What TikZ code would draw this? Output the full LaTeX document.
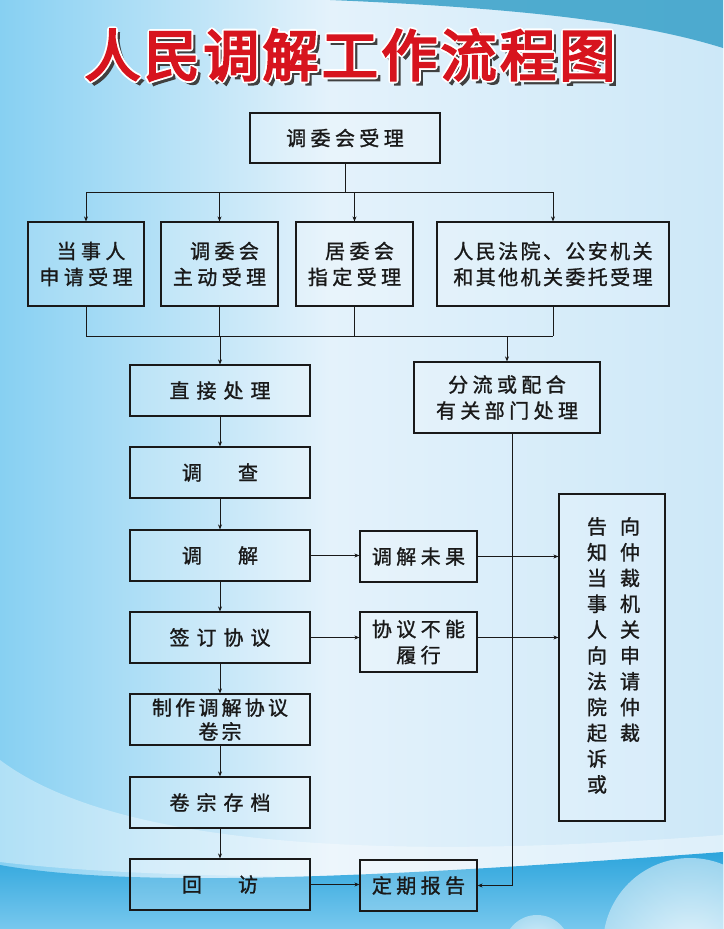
\documentclass[tikz,border=0pt]{standalone}
\usepackage{fontspec}
\usepackage{tikz}
\usetikzlibrary{arrows.meta,calc,positioning}
\newfontfamily\cjk{Noto Sans CJK SC}[FakeBold=1.2]
\newfontfamily\cjkw{Noto Sans CJK SC}[FakeBold=1.2,LetterSpace=22]
\newfontfamily\cjkww{Noto Sans CJK SC}[FakeBold=1.2,LetterSpace=35]
\newfontfamily\cjkt{Noto Sans CJK SC}[FakeBold=4,LetterSpace=6]
\newfontfamily\cjkto{Noto Sans CJK SC}[LetterSpace=6]
% white outline behind the title
\newcommand{\outlined}[1]{\special{pdf:literal direct 1 1 1 RG 6 w 1 j 2 Tr}#1\special{pdf:literal direct 0 Tr}}
\definecolor{bgleft}{RGB}{135,208,242}
\definecolor{bgmid}{RGB}{228,242,251}
\definecolor{bgright}{RGB}{205,232,248}
\definecolor{topband}{RGB}{55,160,200}
\definecolor{wave}{RGB}{45,165,220}
\definecolor{wavelow}{RGB}{120,200,238}
\definecolor{titlered}{RGB}{215,20,30}
\definecolor{ink}{RGB}{25,25,25}

\begin{document}
\begin{tikzpicture}[x=1pt,y=-1pt,
    box/.style={draw=ink,line width=1.2pt,fill=white,fill opacity=0.18,text opacity=1,
      text=ink,align=center,inner sep=0pt,font=\fontsize{20}{26}\selectfont\cjkw},
    arr/.style={draw=ink,line width=0.8pt,-{Stealth[length=5pt,width=4pt]}},
    ln/.style={draw=ink,line width=0.8pt},
    ttl/.style={font=\fontsize{56}{56}\selectfont\cjkt,inner sep=0pt}]
  \useasboundingbox (0,0) rectangle (723,929);
  % background
  \begin{scope}
    \clip (0,0) rectangle (723,929);
    \shade[left color=bgleft,right color=bgright] (0,0) rectangle (300,929);
    \shade[left color=bgleft!40!bgmid,right color=bgright] (300,0) rectangle (723,929);
    \shade[left color=bgleft,right color=bgmid] (0,0) rectangle (330,929);
    \shade[left color=bgmid,right color=bgright] (329,0) rectangle (723,929);
    \fill[topband,opacity=0.85] (330,0) .. controls (520,8) and (640,22) .. (723,48) -- (723,0) -- cycle;
    \fill[white,opacity=0.35] (0,760) .. controls (120,850) and (400,860) .. (723,835) -- (723,870) .. controls (400,880) and (150,880) .. (0,862) -- cycle;
    \shade[top color=wave,bottom color=wavelow] (0,865) .. controls (150,892) and (450,872) .. (723,852) -- (723,929) -- (0,929) -- cycle;
    \shade[inner color=white,outer color=white!70!wave,opacity=0.75] (690,945) circle (87);
    \shade[inner color=white,outer color=white!70!wave,opacity=0.75] (537,948) circle (33);
  \end{scope}
  % title
  \node[ttl,text=black!75] (title-sh) at (354,59) {人民调解工作流程图};
  \node[ttl,font=\fontsize{56}{56}\selectfont\cjkto,text=white] (title-w) at (350,55) {\outlined{人民调解工作流程图}};
  \node[ttl,text=titlered] (title) at (350,55) {人民调解工作流程图};

  % boxes
  \node[box,minimum width=190,minimum height=50] (accept) at (345,138) {调委会受理};
  \node[box,minimum width=116,minimum height=84] (party) at (86,264) {\hspace*{10pt}当事人\\申请受理};
  \node[box,minimum width=117,minimum height=84] (self) at (219.5,264) {\hspace*{10pt}调委会\\主动受理};
  \node[box,minimum width=117,minimum height=84] (resid) at (354.5,264) {\hspace*{10pt}居委会\\指定受理};
  \node[box,minimum width=232,minimum height=84,font=\fontsize{20}{26}\selectfont\cjk\addfontfeature{LetterSpace=12}] (court) at (553,264) {人民法院、公安机关\\和其他机关委托受理};

  \node[box,minimum width=180,minimum height=51,font=\fontsize{20}{26}\selectfont\cjkww] (direct) at (220,390.5) {直接处理};
  \node[box,minimum width=180,minimum height=51,font=\fontsize{20}{26}\selectfont\cjk] (survey) at (220,472.5) {调\hspace{36pt}查};
  \node[box,minimum width=180,minimum height=51,font=\fontsize{20}{26}\selectfont\cjk] (mediate) at (220,555.5) {调\hspace{36pt}解};
  \node[box,minimum width=180,minimum height=51,font=\fontsize{20}{26}\selectfont\cjkww] (sign) at (220,637.5) {签订协议};
  \node[box,minimum width=180,minimum height=51,font=\fontsize{20}{24}\selectfont\cjk\addfontfeature{LetterSpace=16}] (dossier) at (220,719.5) {制作调解协议\\卷宗};
  \node[box,minimum width=180,minimum height=51,font=\fontsize{20}{26}\selectfont\cjkww] (archive) at (220,802.5) {卷宗存档};
  \node[box,minimum width=180,minimum height=51,font=\fontsize{20}{26}\selectfont\cjk] (visit) at (220,884.5) {回\hspace{36pt}访};

  \node[box,minimum width=186,minimum height=71] (shunt) at (507,397.5) {分流或配合\\有关部门处理};
  \node[box,minimum width=117,minimum height=51] (fail) at (418.5,556.5) {调解未果};
  \node[box,minimum width=117,minimum height=60] (broken) at (418.5,642) {协议不能\\履行};
  \node[box,minimum width=117,minimum height=51] (report) at (418.5,885.5) {定期报告};
  \node[box,minimum width=106,minimum height=327] (sue) at (612,657.5) {};
  \node[text=ink,align=center,inner sep=0pt,anchor=north,font=\fontsize{20}{25.8}\selectfont\cjk] (sue-r) at (630,517) {向\\仲\\裁\\机\\关\\申\\请\\仲\\裁};
  \node[text=ink,align=center,inner sep=0pt,anchor=north,font=\fontsize{20}{25.8}\selectfont\cjk] (sue-l) at (597,517) {告\\知\\当\\事\\人\\向\\法\\院\\起\\诉\\或};

  % connectors
  \coordinate (tj) at (0,192);
  \coordinate (bj) at (0,336);
  \draw[ln] (accept.south) -- (accept.south |- tj);
  \draw[ln] (party.north |- tj) -- (court.north |- tj);
  \foreach \b in {party,self,resid,court}
    \draw[arr] (\b.north |- tj) -- (\b.north);
  \foreach \b in {party,self,resid,court}
    \draw[ln] (\b.south) -- (\b.south |- bj);
  \draw[ln] (party.south |- bj) -- (court.south |- bj);
  \draw[arr] (direct.north |- bj) -- (direct.north);
  \draw[arr] (shunt.north |- bj) -- (shunt.north);

  \draw[arr] (direct) -- (survey);
  \draw[arr] (survey) -- (mediate);
  \draw[arr] (mediate) -- (sign);
  \draw[arr] (sign) -- (dossier);
  \draw[arr] (dossier) -- (archive);
  \draw[arr] (archive) -- (visit);

  \draw[arr] (mediate.east) -- (mediate.east -| fail.west);
  \draw[arr] (fail.east) -- (fail.east -| sue.west);
  \draw[arr] (sign.east) -- (sign.east -| broken.west);
  \draw[arr] (sign.east -| broken.east) -- (sign.east -| sue.west);
  \draw[arr] (visit.east) -- (visit.east -| report.west);
  \draw[arr] ([xshift=5]shunt.south) |- (report.east);
\end{tikzpicture}
\end{document}
